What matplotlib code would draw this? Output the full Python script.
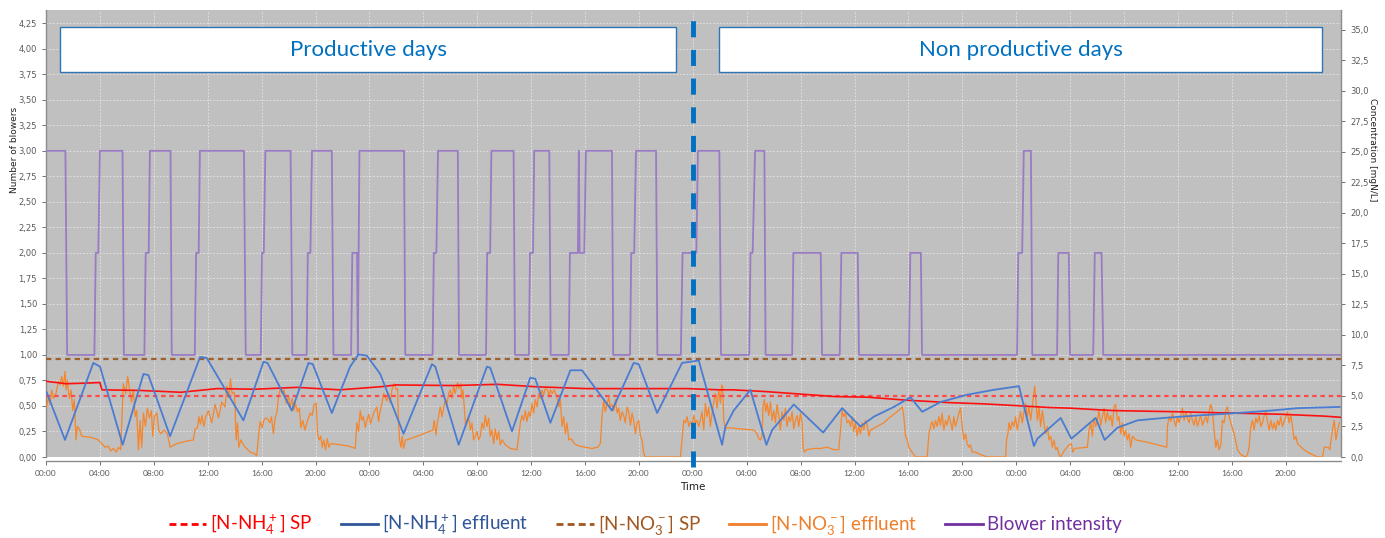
import matplotlib
matplotlib.use("Agg")
import numpy as np
import matplotlib.pyplot as plt
from matplotlib.lines import Line2D
from matplotlib.patches import Rectangle
from matplotlib.ticker import FuncFormatter

# ---------------- DATA (time in hours from start, concentrations in mgN/L) ---------------- #

X_TICKS = [0, 4, 8, 12, 16, 20, 24, 28, 32, 36, 40, 44,
           48, 52, 56, 60, 64, 68, 72, 76, 80, 84, 88, 92]
X_TICK_LABELS = ["00:00", "04:00", "08:00", "12:00", "16:00", "20:00",
                 "00:00", "04:00", "08:00", "12:00", "16:00", "20:00",
                 "00:00", "04:00", "08:00", "12:00", "16:00", "20:00",
                 "00:00", "04:00", "08:00", "12:00", "16:00", "20:00"]

PERIOD_SPLIT = 48
PERIOD_NAMES = ["Productive days", "Non productive days"]

NH4_SP = 5.0
NO3_SP = 8.0

BLOWER_T = [0.0, 1.44, 1.57, 3.59, 3.69, 3.88, 4.0, 5.68, 5.78, 7.30, 7.40, 7.62, 7.71,
            9.24, 9.33, 11.04, 11.14, 11.33, 11.42, 14.69, 14.82, 15.94, 16.03, 16.16, 16.28,
            18.15, 18.28, 19.34, 19.43, 19.62, 19.74, 21.21, 21.33, 22.64, 22.73, 23.08, 23.14,
            23.26, 26.57, 26.66, 28.69, 28.78, 28.97, 29.09, 30.56, 30.65, 32.65, 32.74, 32.96,
            33.05, 34.70, 34.80, 35.83, 35.92, 36.14, 36.23, 37.35, 37.45, 38.79, 38.88, 39.47,
            39.54, 39.60, 39.94, 40.07, 42.0, 42.09, 43.34, 43.43, 43.65, 43.78, 45.27, 45.37,
            47.11, 47.24, 48.26, 48.38, 49.97, 50.09, 52.19, 52.28, 52.44, 52.62, 53.31, 53.40,
            55.37, 55.46, 57.49, 57.59, 58.90, 59.02, 60.24, 60.33, 64.04, 64.14, 64.92, 65.01,
            72.06, 72.15, 72.44, 72.56, 73.09, 73.19, 75.03, 75.12, 75.90, 75.99, 77.71, 77.83,
            78.33, 78.46, 96.1]
BLOWER_N = [3, 3, 1, 1, 2, 2, 3, 3, 1, 1, 2, 2, 3,
            3, 1, 1, 2, 2, 3, 3, 1, 1, 2, 2, 3,
            3, 1, 1, 2, 2, 3, 3, 1, 1, 2, 2, 1,
            3, 3, 1, 1, 2, 2, 3, 3, 1, 1, 2, 2,
            3, 3, 1, 1, 2, 2, 3, 3, 1, 1, 2, 2,
            3, 2, 2, 3, 3, 1, 1, 2, 2, 3, 3, 1,
            1, 2, 2, 3, 3, 1, 1, 2, 2, 3, 3, 1,
            1, 2, 2, 1, 1, 2, 2, 1, 1, 2, 2, 1,
            1, 2, 2, 3, 3, 1, 1, 2, 2, 1, 1, 2,
            2, 1, 1]

NH4_T = [0.05, 1.41, 3.51, 4.01, 5.69, 7.23, 7.60, 9.21, 11.44, 11.93, 14.65, 16.14, 16.44,
         18.24, 19.48, 19.80, 21.21, 22.57, 23.19, 23.81, 24.80, 26.53, 28.64, 28.89, 30.62,
         32.72, 32.97, 34.58, 35.94, 36.31, 37.43, 38.91, 39.78, 42.00, 43.61, 43.99, 45.35,
         47.20, 47.82, 48.44, 50.17, 50.42, 51.03, 52.27, 53.46, 53.88, 55.49, 57.67, 59.08,
         60.44, 61.43, 62.92, 64.15, 65.02, 66.38, 68.36, 70.34, 72.20, 73.31, 73.57, 75.30,
         76.09, 77.90, 78.56, 79.51, 81.00, 82.97, 85.45, 88.42, 90.89, 92.87, 96.0]
NH4_V = [5.3, 1.4, 7.7, 7.4, 1.0, 6.8, 6.7, 1.7, 8.2, 8.1, 3.0, 7.8, 7.7,
         3.8, 7.7, 7.6, 3.6, 7.4, 8.4, 8.3, 6.8, 1.9, 7.6, 7.4, 1.0,
         7.4, 7.3, 2.1, 6.5, 6.4, 2.8, 7.1, 7.1, 3.8, 7.7, 7.6, 3.6,
         7.7, 7.8, 7.9, 1.0, 2.5, 3.8, 5.5, 1.0, 2.2, 4.3, 2.0, 4.0,
         2.5, 3.3, 4.1, 4.9, 3.7, 4.5, 5.1, 5.5, 5.8, 0.9, 1.5, 3.2,
         1.5, 3.2, 1.4, 2.4, 3.0, 3.2, 3.4, 3.6, 3.8, 4.0, 4.1]

NH4_LIMIT_T = [0.0, 1.5, 3.0, 4.0, 4.15, 7.0, 10.0, 12.7, 15.5, 18.6, 21.8, 24.8, 26.0,
               30.2, 33.5, 36.4, 40.1, 43.9, 47.6, 50.0, 51.0, 53.5, 56.0, 58.5, 60.9,
               63.9, 67.1, 69.6, 72.1, 74.5, 76.0, 79.2, 84.2, 87.9, 91.6, 94.8, 96.1]
NH4_LIMIT_V = [6.2, 6.0, 6.05, 6.1, 5.5, 5.45, 5.3, 5.6, 5.55, 5.7, 5.5, 5.75, 5.9,
               5.85, 5.95, 5.75, 5.6, 5.6, 5.6, 5.5, 5.5, 5.35, 5.15, 4.95, 4.9,
               4.65, 4.45, 4.35, 4.2, 4.05, 4.0, 3.8, 3.7, 3.6, 3.5, 3.35, 3.25]

NO3_T = [
    0.05, 0.17, 0.30, 0.42, 0.54, 0.74, 0.92, 1.04, 1.16, 1.29, 1.41, 1.49, 1.58, 1.73, 1.86,
    1.98, 2.10, 2.23, 2.33, 2.48, 2.65, 3.39, 3.89, 4.13, 4.38, 4.63, 4.80, 5.00, 5.20, 5.37,
    5.54, 5.74, 5.92, 6.06, 6.19, 6.34, 6.49, 6.61, 6.73, 6.86, 6.98, 7.10, 7.23, 7.38, 7.52,
    7.67, 7.82, 7.92, 8.04, 8.22, 8.37, 8.51, 8.76, 9.01, 9.21, 9.70, 10.45, 10.94, 11.06, 11.24,
    11.34, 11.46, 11.58, 11.71, 11.86, 12.05, 12.30, 12.55, 12.80, 13.04, 13.29, 13.42, 13.56,
    13.69, 13.81, 13.96, 14.03, 14.11, 14.21, 14.31, 14.46, 14.70, 15.15, 15.45, 15.64, 15.77,
    15.89, 16.04, 16.16, 16.31, 16.46, 16.61, 16.73, 16.88, 17.00, 17.13, 17.25, 17.38, 17.52,
    17.67, 17.82, 18.00, 18.12, 18.27, 18.39, 18.51, 18.66, 18.81, 18.91, 19.06, 19.21, 19.41,
    19.60, 19.75, 19.90, 20.05, 20.15, 20.27, 20.40, 20.50, 20.62, 20.74, 20.87, 20.99, 21.14,
    21.83, 22.45, 22.95, 23.07, 23.19, 23.32, 23.44, 23.56, 23.69, 23.81, 23.96, 24.08, 24.31,
    24.55, 24.68, 24.80,
    24.93, 25.05, 25.17, 25.30, 25.42, 25.54, 25.67, 25.84, 25.99, 26.09, 26.16, 26.24, 26.34,
    26.44, 26.53, 26.68, 26.78, 27.77, 28.71, 28.81, 28.94, 29.04, 29.13, 29.26, 29.38, 29.51,
    29.63, 29.75, 29.88, 30.00, 30.12, 30.25, 30.37, 30.54, 30.64, 30.77, 30.87, 30.94, 31.04,
    31.14, 31.24, 31.36, 31.49, 31.61, 31.73, 31.86, 31.98, 32.10, 32.23, 32.35, 32.48, 32.60,
    32.72, 32.85, 32.97, 33.09, 33.22, 33.34, 33.47, 33.59, 33.71, 33.86, 34.08, 34.46, 34.95,
    35.08, 35.20, 35.32, 35.45, 35.57, 35.69, 35.82, 35.94, 36.07, 36.19, 36.31, 36.44, 36.56,
    36.68, 36.81, 36.93, 37.05, 37.23, 37.33, 37.43, 37.57, 37.72, 37.87, 37.97, 38.07, 38.17,
    38.29, 38.42, 38.54, 38.66, 38.79, 38.96, 39.21, 39.53, 40.02, 40.52, 40.94, 41.14, 41.26,
    41.39, 41.51, 41.63, 41.76, 41.88, 42.00, 42.13, 42.25, 42.38, 42.50, 42.62, 42.75, 42.87,
    42.99, 43.12, 43.24, 43.37, 43.49, 43.61, 43.74, 43.86, 43.99, 44.11, 44.23, 44.36, 44.48,
    47.08, 47.20, 47.33, 47.45, 47.57, 47.70, 47.82, 47.95, 48.07, 48.19, 48.32, 48.44,
    48.56, 48.68, 48.81, 48.93, 49.06, 49.18, 49.30, 49.43, 49.55, 49.67, 49.80, 49.92, 50.05,
    50.14, 50.22, 50.29, 50.42, 50.54, 51.53, 52.52, 52.77, 52.89, 53.02, 53.14, 53.21, 53.31,
    53.41, 53.51, 53.63, 53.76, 53.88, 54.01, 54.13, 54.25, 54.38, 54.50, 54.62, 54.75, 54.87,
    54.99, 55.12, 55.24, 55.37, 55.49, 55.61, 55.74, 55.86, 55.99, 56.11, 56.18, 56.28, 56.43,
    56.98, 57.47, 57.97, 58.46, 58.83, 58.96, 59.08, 59.20, 59.33, 59.45, 59.57, 59.70, 59.82,
    59.95, 60.07, 60.19, 60.32, 60.44, 60.56, 60.69, 60.81, 60.94, 61.06, 61.18, 61.68, 62.17,
    62.67, 63.16, 63.54, 63.66, 63.78, 63.91, 64.03, 64.20, 64.40, 64.53, 65.39, 65.52, 65.64,
    65.76, 65.89, 66.01, 66.13, 66.26, 66.38, 66.50, 66.63, 66.75, 66.88, 67.00, 67.12, 67.25,
    67.37, 67.49, 67.62, 67.74, 67.87, 67.99, 68.11, 68.24, 68.36, 68.49, 68.61, 68.73, 68.98,
    69.35, 69.85, 71.21, 71.28, 71.38, 71.46, 71.58, 71.70, 71.83, 71.95, 72.08, 72.20, 72.32,
    72.45, 72.57, 72.69, 72.82, 72.94, 73.07,
    73.19, 73.37, 73.47, 73.57, 73.69, 73.81, 73.94, 74.06, 74.18, 74.31, 74.43, 74.56, 74.68,
    74.80, 74.93, 75.05, 75.17, 75.30, 75.55, 75.92, 76.09, 76.19, 76.34, 77.28, 77.40, 77.53,
    77.65, 77.77, 77.90, 78.02, 78.14, 78.27, 78.39, 78.52, 78.64, 78.76, 78.89, 79.01, 79.13,
    79.26, 79.38, 79.51, 79.63, 79.75, 79.88, 80.00, 80.12, 80.25, 80.37, 80.50, 80.62, 80.87,
    81.73, 82.48, 83.17, 83.22, 83.34, 83.47, 83.59, 83.71, 83.84, 83.96, 84.08, 84.21, 84.33,
    84.46, 84.58, 84.70, 84.83, 84.95, 85.07, 85.20, 85.32, 85.45, 85.57, 85.69, 85.82, 85.94,
    86.06, 86.19, 86.31, 86.44, 86.56, 86.68, 86.81, 86.93, 87.05, 87.18, 87.30, 87.43, 87.55,
    87.67, 87.80, 87.92, 88.17, 88.42, 88.66, 89.03, 89.16, 89.28, 89.41, 89.53, 89.65, 89.78,
    89.90, 90.03, 90.15, 90.27, 90.40, 90.52, 90.64, 90.77, 90.89, 91.02, 91.14, 91.26, 91.39,
    91.51, 91.63, 91.76, 91.88, 92.01, 92.13, 92.25, 92.38, 92.50, 92.62, 92.75, 92.87, 93.24,
    93.61, 93.99, 94.36, 94.73, 94.85, 95.15, 95.27, 95.40, 95.50, 95.60, 95.72, 95.85, 95.97,
]
NO3_V = [
    4.1, 4.9, 4.3, 5.5, 4.8, 5.2, 6.2, 5.9, 6.6, 5.8, 7.0, 5.5, 6.3, 4.8, 5.5,
    3.8, 4.7, 1.4, 2.5, 2.3, 1.7, 1.6, 1.4, 1.1, 0.8, 0.9, 0.5, 0.7, 0.4, 0.8,
    0.6, 6.0, 5.2, 6.6, 5.6, 4.5, 5.5, 3.3, 3.8, 0.6, 3.0, 0.8, 3.6, 2.5, 4.0,
    3.2, 3.8, 1.7, 3.3, 3.6, 2.2, 1.9, 2.2, 1.9, 0.8, 1.1, 1.3, 1.4, 2.3, 2.4,
    3.3, 2.7, 3.4, 2.5, 3.3, 3.8, 2.8, 4.3, 3.2, 4.5, 4.1, 5.8, 4.9,
    6.4, 5.2, 5.3, 4.1, 1.4, 2.8, 0.8, 1.4, 0.9, 0.4, 0.3, 0.1, 1.7,
    2.9, 2.4, 3.0, 3.2, 3.1, 2.8, 3.3, 1.9, 3.2, 3.6, 4.9, 5.6, 5.2,
    5.5, 4.4, 5.0, 4.1, 4.8, 3.8, 4.4, 3.7, 4.0, 2.4, 3.0, 2.2, 3.0,
    3.6, 3.4, 4.3, 4.4, 1.9, 1.4, 1.7, 0.8, 1.4, 0.6, 1.5, 0.8, 1.1,
    1.0, 0.9, 0.7, 2.8, 2.1, 3.8, 3.0, 3.3, 2.4, 3.0, 3.5, 2.7, 3.6,
    4.1, 2.9, 3.8,
    4.4, 5.2, 4.9, 4.6, 5.2, 4.4, 5.5, 6.0, 5.5, 5.6, 2.8, 1.4, 0.8,
    1.7, 0.7, 1.4, 1.4, 1.8, 2.2, 3.0, 1.8, 2.8, 3.3, 4.1, 3.3, 4.0,
    4.7, 4.3, 5.2, 5.5, 4.8, 5.8, 5.2, 6.1, 5.6, 6.0, 4.8, 5.5, 4.1,
    2.5, 3.0, 3.3, 2.2, 2.8, 1.4, 1.7, 2.1, 1.4, 1.7, 2.8, 2.3, 3.4,
    2.5, 3.2, 1.7, 2.2, 1.1, 2.3, 1.4, 2.1, 1.0, 1.4, 1.0, 0.7, 0.6,
    1.7, 2.8, 3.4, 3.0, 3.8, 2.9, 3.7, 3.3, 4.4, 3.6, 4.7, 4.1, 5.2,
    4.8, 5.5, 5.1, 5.6, 5.5, 4.9, 5.5, 5.2, 5.5, 5.0, 4.7, 4.1, 4.7,
    2.5, 3.3, 1.9, 2.8, 1.4, 1.5, 1.1, 0.9, 0.8, 0.7, 0.8, 1.1, 3.3,
    4.7, 3.7, 4.3, 4.9, 4.1, 4.3, 3.8, 4.7, 3.6, 4.0, 3.0, 3.7, 3.4,
    2.8, 4.1, 3.7, 2.6, 3.6, 3.0, 1.9, 2.8, 3.0, 1.7, 1.4, 0.3, 0.0,
    0.0, 1.4, 3.0, 2.8, 3.3, 2.5, 2.9, 2.6, 3.4, 2.8, 3.0, 2.5,
    3.0, 3.7, 2.2, 4.4, 3.3, 4.1, 2.5, 3.6, 4.5, 5.2, 4.0, 5.5, 4.4,
    5.9, 5.7, 3.0, 2.3, 2.4, 2.3, 2.2, 1.9, 1.5, 1.4, 1.7, 4.1, 4.7,
    3.7, 4.4, 3.4, 4.5, 3.0, 3.8, 2.8, 4.3, 3.4, 2.2, 3.7, 3.0, 4.0,
    2.5, 3.3, 2.9, 3.7, 2.3, 3.0, 3.4, 2.5, 3.6, 2.8, 0.8, 0.4, 0.6,
    0.7, 0.7, 0.8, 0.6, 0.6, 2.2, 3.8, 3.3, 3.6, 2.8, 3.0, 2.5, 3.3,
    2.1, 2.8, 1.7, 2.5, 1.9, 2.8, 2.2, 3.0, 2.6, 1.7, 2.2, 2.5, 2.8,
    3.3, 3.7, 4.1, 3.3, 1.7, 1.4, 0.8, 0.5, 0.2, 0.0, 0.0, 1.9, 2.5,
    2.9, 2.3, 3.0, 2.5, 3.3, 2.6, 3.6, 2.2, 3.0, 2.6, 3.4, 2.9, 2.2,
    3.3, 2.5, 3.0, 3.6, 4.0, 2.5, 1.4, 1.9, 1.1, 0.8, 1.0, 0.4, 0.4,
    0.2, 0.0, 0.0, 1.4, 1.9, 2.8, 2.2, 2.9, 2.5, 3.3, 2.2, 3.0, 3.7,
    2.8, 3.7, 4.4, 3.3, 4.1, 3.0,
    4.1, 5.8, 4.5, 3.0, 4.1, 2.5, 3.8, 2.8, 1.9, 2.5, 1.4, 1.7, 0.8,
    1.4, 0.6, 0.8, 0.2, 0.0, 0.5, 1.0, 1.1, 0.4, 0.7, 0.8, 2.2, 2.8,
    1.7, 3.2, 2.5, 3.0, 3.8, 2.6, 3.3, 4.0, 2.8, 3.7, 3.0, 3.4, 2.5,
    4.1, 4.3, 3.0, 3.3, 1.9, 2.8, 1.7, 2.2, 1.4, 1.9, 0.8, 1.7, 1.4,
    1.2, 1.0, 0.8, 2.5, 3.3, 2.9, 3.6, 3.0, 2.5, 3.3, 2.8, 3.4, 4.0,
    3.0, 3.7, 3.2, 2.8, 3.6, 3.0, 2.6, 3.3, 2.5, 3.0, 3.4, 2.6, 3.0,
    3.3, 2.8, 3.7, 4.3, 3.8, 2.2, 0.8, 1.4, 0.6, 1.0, 3.0, 2.8, 3.8,
    4.1, 3.3, 2.8, 1.9, 0.6, 0.2, 0.0, 0.2, 0.8, 2.5, 3.0, 2.2, 3.2,
    2.8, 3.4, 2.5, 2.8, 3.4, 3.8, 2.9, 2.2, 3.0, 2.3, 2.8, 2.2, 3.0,
    2.6, 3.3, 2.5, 2.9, 3.3, 3.7, 2.8, 3.4, 2.5, 1.4, 1.7, 1.1, 0.7,
    0.4, 0.2, 0.0, 0.0, 0.8, 0.8, 0.6, 1.7, 2.5, 3.0, 1.4, 2.2, 2.8,
]

# ---------------- STYLE ---------------- #

BG_GRAY = "#C0C0C0"
TICK_GRAY = "#5A5A5A"
BOX_BLUE = "#2E75B6"
TEXT_BLUE = "#0070C0"

plt.rcParams["font.family"] = ["Lato", "DejaVu Sans"]
plt.rcParams["mathtext.fontset"] = "custom"
plt.rcParams["mathtext.rm"] = "Lato"
plt.rcParams["mathtext.default"] = "regular"


def comma_fmt(decimals):
    return FuncFormatter(lambda v, pos: f"{v:.{decimals}f}".replace(".", ","))


# ---------------- FIGURE ---------------- #

fig = plt.figure(figsize=(13.85, 5.38), dpi=100)
ax = fig.add_axes([46 / 1385, 81 / 538, 1295 / 1385, 447 / 538])
ax.set_facecolor(BG_GRAY)
ax.set_xlim(0, 96.1)
ax.set_ylim(0, 4.38)
ax.set_axisbelow(True)
ax.grid(True, color="#E6E6E6", linestyle=(0, (2, 2)), linewidth=0.6)

ax2 = ax.twinx()
ax2.set_ylim(0, 36.6)

# blowers on the left axis
ax.plot(BLOWER_T, BLOWER_N, color="#9A7CC4", lw=1.3, zorder=3)

# concentrations on the right axis
ax2.axhline(NO3_SP, color="#A0602E", lw=1.6, linestyle=(0, (2.4, 1.9)), zorder=2)
ax2.plot(NO3_T, NO3_V, color="#F5862C", lw=0.9, zorder=3)
ax2.axhline(NH4_SP, color="#FF4A4A", lw=1.6, linestyle=(0, (2.0, 1.7)), zorder=3)
ax2.plot(NH4_LIMIT_T, NH4_LIMIT_V, color="#FF1010", lw=1.2, zorder=4)
ax2.plot(NH4_T, NH4_V, color="#4A7CD2", lw=1.3, zorder=4)

# period boxes
boxes = [(0.0108, 0.4757), (0.5197, 0.4656)]
for (x0, w), name in zip(boxes, PERIOD_NAMES):
    ax2.add_patch(Rectangle((x0, 0.861), w, 0.101, transform=ax2.transAxes,
                            facecolor="white", edgecolor=BOX_BLUE, lw=1.0, zorder=6))
    ax2.text(x0 + w / 2, 0.9115, name, transform=ax2.transAxes, ha="center", va="center",
             fontsize=16, color=TEXT_BLUE, zorder=7)

ax2.axvline(PERIOD_SPLIT, ymin=-0.022, ymax=1, color=TEXT_BLUE, lw=3.5,
            linestyle=(0, (3.3, 2.6)), clip_on=False, zorder=8)

# axes styling
ax.set_xticks(X_TICKS)
ax.set_xticklabels(X_TICK_LABELS)
ax.set_yticks(np.arange(0, 4.26, 0.25))
ax.yaxis.set_major_formatter(comma_fmt(2))
ax2.set_yticks(np.arange(0, 35.1, 2.5))
ax2.yaxis.set_major_formatter(comma_fmt(1))

for a in (ax, ax2):
    a.tick_params(labelsize=6, colors=TICK_GRAY, length=3, width=0.6)
    for lbl in a.get_xticklabels() + a.get_yticklabels():
        lbl.set_family("DejaVu Sans")
    a.spines["top"].set_visible(False)

ax.spines["right"].set_visible(False)
ax2.spines["left"].set_visible(False)
ax2.spines["bottom"].set_visible(False)
ax.spines["bottom"].set_position(("outward", 3))
for sp in (ax.spines["bottom"], ax.spines["left"], ax2.spines["right"]):
    sp.set_color("#8C8C8C")
    sp.set_linewidth(1.0)

fig.text(15 / 1385, 1 - 150 / 538, "Number of blowers", rotation=90, ha="center",
         va="center", fontsize=6.5, family="DejaVu Sans", color="#202020")
fig.text(1373 / 1385, 1 - 150 / 538, "Concentration [mgN/L]", rotation=270, ha="center",
         va="center", fontsize=6.5, family="DejaVu Sans", color="#202020")
fig.text(693 / 1385, 1 - 487 / 538, "Time", ha="center", va="center",
         fontsize=7.5, family="DejaVu Sans", color="#202020")

# legend
legend_colors = ["#FF0000", "#2F5597", "#A0561E", "#F07F2A", "#7030A0"]
handles = [
    Line2D([], [], color=legend_colors[0], lw=2, linestyle=(0, (2.5, 1.5))),
    Line2D([], [], color=legend_colors[1], lw=2),
    Line2D([], [], color=legend_colors[2], lw=2, linestyle=(0, (2.5, 1.5))),
    Line2D([], [], color=legend_colors[3], lw=2),
    Line2D([], [], color=legend_colors[4], lw=2),
]
labels = [r"[N-NH$_4^+$] SP", r"[N-NH$_4^+$] effluent", r"[N-NO$_3^-$] SP",
          r"[N-NO$_3^-$] effluent", "Blower intensity"]
leg = fig.legend(handles, labels, loc="center", bbox_to_anchor=(645 / 1385, 1 - 525 / 538),
                 ncol=5, frameon=False, fontsize=13.5, handlelength=2.0,
                 handletextpad=0.2, columnspacing=1.5)
for txt, c in zip(leg.get_texts(), legend_colors):
    txt.set_color(c)

fig.savefig("out.png", dpi=100)
